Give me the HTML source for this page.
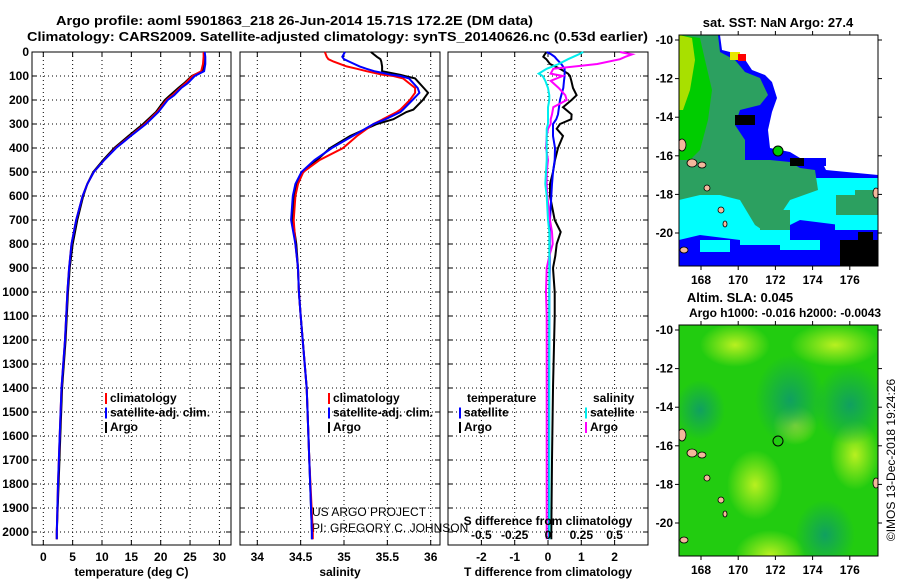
<!DOCTYPE html>
<html><head><meta charset="utf-8"><style>
html,body{margin:0;padding:0;background:#fff;}
svg{display:block;font-family:"Liberation Sans",sans-serif;}
.b{font-weight:bold;font-size:13px;}
.t{font-weight:bold;font-size:12px;}
</style></head><body>
<svg id="c" width="900" height="580" viewBox="0 0 900 580">
<defs>
<radialGradient id="lg"><stop offset="0" stop-color="#b8f020"/><stop offset="1" stop-color="#b8f020" stop-opacity="0"/></radialGradient>
<radialGradient id="dg"><stop offset="0" stop-color="#10a060"/><stop offset="1" stop-color="#10a060" stop-opacity="0"/></radialGradient>
<clipPath id="m1c"><rect x="679" y="35" width="199" height="231"/></clipPath>
<clipPath id="m2c"><rect x="679" y="325" width="199" height="231"/></clipPath>
</defs>
<text class="b" x="56" y="25" textLength="477" lengthAdjust="spacingAndGlyphs">Argo profile: aoml 5901863_218 26-Jun-2014 15.71S 172.2E (DM data)</text>
<text class="b" x="27" y="41" textLength="621" lengthAdjust="spacingAndGlyphs">Climatology: CARS2009. Satellite-adjusted climatology: synTS_20140626.nc (0.53d earlier)</text>

<!-- Map 1 -->
<g clip-path="url(#m1c)">
<rect x="679" y="35" width="199" height="231" fill="#fff"/>
<polygon fill="#0000ff" points="679,35 720,35 722,50 742,55 752,70 765,75 772,82 777,98 772,112 768,130 770,148 790,152 800,158 820,158 826,170 878,175 878,266 679,266"/>
<polygon fill="#00ffff" points="679,190 760,185 800,178 826,178 878,178 878,230 840,225 800,220 780,230 740,240 700,235 679,240"/>
<polygon fill="#2ca060" points="679,35 718,35 720,52 735,60 745,72 760,78 768,95 760,105 740,110 735,125 745,140 745,160 770,160 790,162 800,168 815,170 818,190 790,200 780,215 770,235 755,225 740,200 720,195 700,195 679,200"/>
<polygon fill="#00cc00" points="679,35 700,38 705,60 712,90 708,120 700,150 690,160 679,160"/>
<polygon fill="#a8e000" points="679,35 692,38 695,60 690,90 683,110 679,110"/>
<rect x="730" y="52" width="10" height="8" fill="#e8e800"/>
<rect x="738" y="54" width="8" height="7" fill="#ff0000"/>
<rect x="836" y="195" width="42" height="20" fill="#2ca060"/>
<rect x="855" y="190" width="23" height="12" fill="#2ca060"/>
<rect x="760" y="210" width="30" height="25" fill="#2ca060"/>
<rect x="740" y="230" width="50" height="15" fill="#00ffff"/>
<rect x="700" y="240" width="30" height="12" fill="#00ffff"/>
<rect x="780" y="240" width="40" height="10" fill="#00ffff"/>
<rect x="835" y="218" width="43" height="12" fill="#00ffff"/>
<rect x="735" y="115" width="20" height="10" fill="#000"/>
<rect x="790" y="158" width="22" height="8" fill="#000"/>
<rect x="840" y="240" width="38" height="26" fill="#000"/>
<rect x="858" y="232" width="15" height="10" fill="#000"/>
<rect x="804" y="158" width="22" height="8" fill="#0000ff"/>
<rect x="806" y="158" width="18" height="9" fill="#0000ff"/>
<ellipse cx="682" cy="145" rx="4" ry="6" fill="#f4b89c" stroke="#000" stroke-width="0.8"/>
<ellipse cx="692" cy="163" rx="5" ry="4" fill="#f4b89c" stroke="#000" stroke-width="0.8"/>
<ellipse cx="702" cy="165" rx="4" ry="3" fill="#f4b89c" stroke="#000" stroke-width="0.8"/>
<ellipse cx="707" cy="188" rx="3" ry="3" fill="#f4b89c" stroke="#000" stroke-width="0.8"/>
<ellipse cx="721" cy="210" rx="3" ry="3" fill="#f4b89c" stroke="#000" stroke-width="0.8"/>
<ellipse cx="725" cy="224" rx="2" ry="3" fill="#f4b89c" stroke="#000" stroke-width="0.8"/>
<ellipse cx="684" cy="250" rx="4" ry="3" fill="#f4b89c" stroke="#000" stroke-width="0.8"/>
<ellipse cx="876" cy="193" rx="3" ry="5" fill="#f4b89c" stroke="#000" stroke-width="0.8"/>
<circle cx="778" cy="151" r="5" fill="#00cc00" stroke="#000" stroke-width="1"/>
</g>
<rect x="679" y="35" width="199" height="231" fill="none" stroke="#000" stroke-width="1"/>
<text class="b" x="778" y="27" text-anchor="middle">sat. SST: NaN Argo: 27.4</text>

<!-- Map 2 -->
<g clip-path="url(#m2c)">
<rect x="679" y="325" width="199" height="231" fill="#22cc10"/>
<ellipse cx="735" cy="345" rx="35" ry="22" fill="url(#lg)"/>
<ellipse cx="835" cy="345" rx="45" ry="22" fill="url(#lg)"/>
<ellipse cx="795" cy="425" rx="22" ry="20" fill="url(#lg)"/>
<ellipse cx="755" cy="485" rx="28" ry="35" fill="url(#lg)"/>
<ellipse cx="855" cy="455" rx="25" ry="35" fill="url(#lg)"/>
<ellipse cx="770" cy="555" rx="35" ry="25" fill="url(#lg)"/>
<ellipse cx="790" cy="400" rx="35" ry="45" fill="url(#dg)"/>
<ellipse cx="850" cy="405" rx="35" ry="40" fill="url(#dg)"/>
<ellipse cx="825" cy="535" rx="30" ry="35" fill="url(#dg)"/>
<ellipse cx="700" cy="410" rx="25" ry="30" fill="url(#dg)"/>
<ellipse cx="682" cy="435" rx="4" ry="6" fill="#f4b89c" stroke="#000" stroke-width="0.8"/>
<ellipse cx="692" cy="453" rx="5" ry="4" fill="#f4b89c" stroke="#000" stroke-width="0.8"/>
<ellipse cx="702" cy="455" rx="4" ry="3" fill="#f4b89c" stroke="#000" stroke-width="0.8"/>
<ellipse cx="707" cy="478" rx="3" ry="3" fill="#f4b89c" stroke="#000" stroke-width="0.8"/>
<ellipse cx="721" cy="500" rx="3" ry="3" fill="#f4b89c" stroke="#000" stroke-width="0.8"/>
<ellipse cx="725" cy="514" rx="2" ry="3" fill="#f4b89c" stroke="#000" stroke-width="0.8"/>
<ellipse cx="684" cy="540" rx="4" ry="3" fill="#f4b89c" stroke="#000" stroke-width="0.8"/>
<ellipse cx="876" cy="483" rx="3" ry="5" fill="#f4b89c" stroke="#000" stroke-width="0.8"/>
<circle cx="778" cy="441" r="5" fill="none" stroke="#000" stroke-width="1"/>
</g>
<rect x="679" y="325" width="199" height="231" fill="none" stroke="#000" stroke-width="1"/>
<text class="b" x="740" y="302" text-anchor="middle">Altim. SLA: 0.045</text>
<text class="t" x="785" y="317" text-anchor="middle">Argo h1000: -0.016 h2000: -0.0043</text>
<text x="0" y="0" font-size="12" transform="translate(895,460) rotate(-90)" text-anchor="middle">©IMOS 13-Dec-2018 19:24:26</text>

<text x="312" y="516" font-size="12">US ARGO PROJECT</text>
<text x="312" y="532" font-size="12">PI: GREGORY C. JOHNSON</text>
<g id="dyn"></g>
</svg>
<script>
// ---------- data ----------
const depthGrid = [0,20,50,80,100,130,150,180,200,250,300,350,400,450,500,550,600,700,800,900,1000,1100,1200,1400,1600,1800,2000,2030];
const tempArgo  = [27.4,27.4,27.3,27.1,25.3,24.0,23.0,21.6,20.7,19.2,17.0,14.5,12.1,10.2,8.5,7.5,6.8,5.8,5.0,4.5,4.2,4.0,3.8,3.2,2.9,2.6,2.3,2.3];
const tempClim  = [27.3,27.3,27.2,26.9,25.4,24.2,23.3,22.0,21.0,19.4,17.3,14.8,12.3,10.4,8.6,7.5,6.7,5.6,4.8,4.4,4.1,3.9,3.7,3.1,2.8,2.5,2.3,2.3];
const tempSat   = [27.5,27.6,27.6,27.4,25.8,24.6,23.5,22.3,21.2,19.6,17.5,14.9,12.4,10.4,8.6,7.5,6.7,5.6,4.8,4.4,4.1,3.9,3.7,3.1,2.8,2.5,2.3,2.3];
const salDepth  = [0,20,30,40,60,70,80,95,100,110,150,170,200,240,250,280,300,350,400,450,500,550,600,700,800,900,1000,1100,1400,1700,2000,2030];
const salArgo   = [35.31,35.38,35.42,35.43,35.44,35.44,35.44,35.65,35.70,35.82,35.92,35.97,35.91,35.80,35.72,35.57,35.38,35.07,34.84,34.69,34.53,34.45,34.42,34.41,34.45,34.47,34.48,34.50,34.57,34.60,34.63,34.63];
const salClim   = [34.78,34.80,34.82,34.88,35.03,35.15,35.26,35.45,35.57,35.68,35.82,35.82,35.76,35.65,35.61,35.45,35.34,35.15,34.99,34.72,34.53,34.47,34.44,34.42,34.44,34.47,34.48,34.50,34.57,34.60,34.64,34.64];
const salSat    = [35.01,34.98,35.00,35.06,35.18,35.26,35.35,35.55,35.65,35.75,35.85,35.87,35.79,35.68,35.65,35.48,35.34,35.10,34.86,34.66,34.51,34.44,34.41,34.39,34.44,34.47,34.48,34.50,34.57,34.60,34.63,34.63];
const dDepth    = [0,10,20,30,50,70,90,100,120,150,180,200,230,260,280,300,320,350,400,450,500,550,600,700,750,800,850,900,1000,1100,1400,1700,2000,2030];
const dTArgo    = [-0.04,-0.1,-0.14,-0.05,0.06,0.36,0.6,0.66,0.7,0.75,0.86,0.71,0.45,0.71,0.7,0.36,0.26,0.45,0.3,0.21,0.15,0.06,0.06,0.2,0.38,0.26,0.22,0.15,0.2,0.2,0.15,0.12,0.1,0.1];
const dTSat     = [-0.04,0.1,0.2,0.26,0.4,0.5,0.5,0.5,0.48,0.46,0.4,0.36,0.33,0.3,0.25,0.15,0.15,0.15,0.21,0.2,0.15,0.12,0.1,0.06,0.05,0.05,0.05,0.05,0.04,0.04,0.03,0.03,0.03,0.03];
const dSSat     = [0.265,0.23,0.19,0.15,0.08,-0.01,-0.07,-0.04,-0.02,0,0.01,0.01,0.0,0,0,0,-0.01,-0.01,-0.01,-0.01,-0.015,-0.02,-0.01,0,0.01,0.01,0.01,0.01,0.01,0.01,0.01,0.01,0.01,0.01];
const dSArgo    = [0.54,0.63,0.58,0.54,0.37,0.04,0.02,0.11,0.02,0.08,0.13,0.14,0.04,0.03,0.02,0.02,0,-0.01,-0.015,0,-0.01,-0.01,-0.005,0.015,0.03,0.035,0.01,-0.01,-0.015,-0.01,-0.01,-0.01,-0.01,-0.01];
const depthTicks = [0,100,200,300,400,500,600,700,800,900,1000,1100,1200,1300,1400,1500,1600,1700,1800,1900,2000];
const tTicks = [0,5,10,15,20,25,30];
const sTicks = [34,34.5,35,35.5,36];
const dTTicks = [-2,-1,0,1,2];
const dSTicks = [-0.5,-0.25,0,0.25,0.5];
const latTicks = [-10,-12,-14,-16,-18,-20];
const lonTicks = [168,170,172,174,176];

// ---------- helpers ----------
const NS='http://www.w3.org/2000/svg';
const g=document.getElementById('dyn');
function mk(tag,at,parent){const e=document.createElementNS(NS,tag);for(const k in at)e.setAttribute(k,at[k]);(parent||g).appendChild(e);return e;}
const yD=d=>52+d*0.24;
const panels=[
 {x0:32,x1:231,sx:v=>43.3+v*5.87,ticks:tTicks,name:'temperature-panel',title:'temperature (deg C)'},
 {x0:240,x1:440,sx:v=>257.3+(v-34)*86.7,ticks:sTicks,name:'salinity-panel',title:'salinity'},
 {x0:448,x1:648,sx:v=>548+v*33.3,ticks:dTTicks,name:'difference-panel',title:'T difference from climatology'}
];
panels.forEach((p,pi)=>{
  const pg=mk('g',{});
  
  
  depthTicks.forEach(d=>{
    const l=mk('line',{x1:p.x0,x2:p.x1,y1:yD(d),y2:yD(d),stroke:'#000','stroke-width':1,'stroke-dasharray':'1,3'},pg);
    
    
    mk('line',{x1:p.x0,x2:p.x0+5,y1:yD(d),y2:yD(d),stroke:'#000'},pg);
    mk('line',{x1:p.x1-5,x2:p.x1,y1:yD(d),y2:yD(d),stroke:'#000'},pg);
  });
  p.ticks.forEach(v=>{
    const x=p.sx(v);
    const l=mk('line',{x1:x,x2:x,y1:52,y2:545,stroke:'#000','stroke-width':1,'stroke-dasharray':'1,3'},pg);
    
    
    mk('line',{x1:x,x2:x,y1:545,y2:540,stroke:'#000'},pg);
    mk('line',{x1:x,x2:x,y1:52,y2:57,stroke:'#000'},pg);
    const t=mk('text',{x:x,y:561,'text-anchor':'middle',class:'t'},pg);
    t.textContent=String(v);
    
    
  });
  const fr=mk('rect',{x:p.x0,y:52,width:p.x1-p.x0,height:493,fill:'none',stroke:'#000','stroke-width':1},pg);
  
  
  const at=mk('text',{x:(p.x0+p.x1)/2,y:576,'text-anchor':'middle',class:'t'},pg);
  at.textContent=p.title;
  
  
});
depthTicks.forEach(d=>{
  const t=mk('text',{x:29,y:yD(d)+4,'text-anchor':'end',class:'t'});
  t.textContent=String(d);
  
  
});
function line(depths,vals,sx,color,name){
  const pts=depths.map((d,i)=>sx(vals[i]).toFixed(1)+','+yD(d).toFixed(1)).join(' ');
  const e=mk('polyline',{points:pts,fill:'none',stroke:color,'stroke-width':2});
  
  
}
const sT=panels[0].sx,sS=panels[1].sx,sDT=panels[2].sx,sDS=v=>548+v*133.3;
line(depthGrid,tempArgo,sT,'#000','temp-argo-line');
line(depthGrid,tempClim,sT,'#f00','temp-climatology-line');
line(depthGrid,tempSat,sT,'#00f','temp-satellite-line');
line(salDepth,salArgo,sS,'#000','salinity-argo-line');
line(salDepth,salClim,sS,'#f00','salinity-climatology-line');
line(salDepth,salSat,sS,'#00f','salinity-satellite-line');
line(dDepth,dTArgo,sDT,'#000','tdiff-argo-line');
line(dDepth,dTSat,sDT,'#00f','tdiff-satellite-line');
line(dDepth,dSArgo,sDS,'#f0f','sdiff-argo-line');
line(dDepth,dSSat,sDS,'#0ee','sdiff-satellite-line');
// S diff inner axis labels
const st=mk('text',{x:548,y:525,'text-anchor':'middle',class:'t'});
st.textContent='S difference from climatology';


dSTicks.forEach(v=>{
  const t=mk('text',{x:sDS(v),y:539,'text-anchor':'middle',class:'t'});
  t.textContent=String(v);
  
  
});
// legends
function leg(x,y,color,label){
  const r=mk('rect',{x:x,y:y-9,width:2,height:11,fill:color});
  
  
  const t=mk('text',{x:x+5,y:y,class:'t','font-weight':'normal'});
  t.textContent=label;
  
  
}
[[105,'#f00','climatology'],[105,'#00f','satellite-adj. clim.'],[105,'#000','Argo']].forEach((e,i)=>leg(e[0],402+i*14.5,e[1],e[2]));
[[328,'#f00','climatology'],[328,'#00f','satellite-adj. clim.'],[328,'#000','Argo']].forEach((e,i)=>leg(e[0],402+i*14.5,e[1],e[2]));
const lt=mk('text',{x:467,y:402,class:'t','font-weight':'normal'});lt.textContent='temperature';


const ls=mk('text',{x:593,y:402,class:'t','font-weight':'normal'});ls.textContent='salinity';


leg(459,416.5,'#00f','satellite');leg(459,431,'#000','Argo');
leg(585,416.5,'#0ee','satellite');leg(585,431,'#f0f','Argo');
// map axes
function mapAxes(top,name){
  const yL=lat=>top+5+(-10-lat)*19.3;
  const xL=lon=>701+(lon-168)*18.6;
  latTicks.forEach(v=>{
    const y=yL(v);
    mk('line',{x1:679,x2:675,y1:y,y2:y,stroke:'#000'});
    mk('line',{x1:878,x2:882,y1:y,y2:y,stroke:'#000'});
    const t=mk('text',{x:673,y:y+4,'text-anchor':'end',class:'t'});
    t.textContent=String(v);
    
    
  });
  lonTicks.forEach(v=>{
    const x=xL(v);
    mk('line',{x1:x,x2:x,y1:top+231,y2:top+235,stroke:'#000'});
    mk('line',{x1:x,x2:x,y1:top,y2:top-4,stroke:'#000'});
    const t=mk('text',{x:x,y:top+249,'text-anchor':'middle',class:'t'});
    t.textContent=String(v);
    
    
  });
}
mapAxes(35,'sst-map');mapAxes(325,'sla-map');
</script>
</body></html>
